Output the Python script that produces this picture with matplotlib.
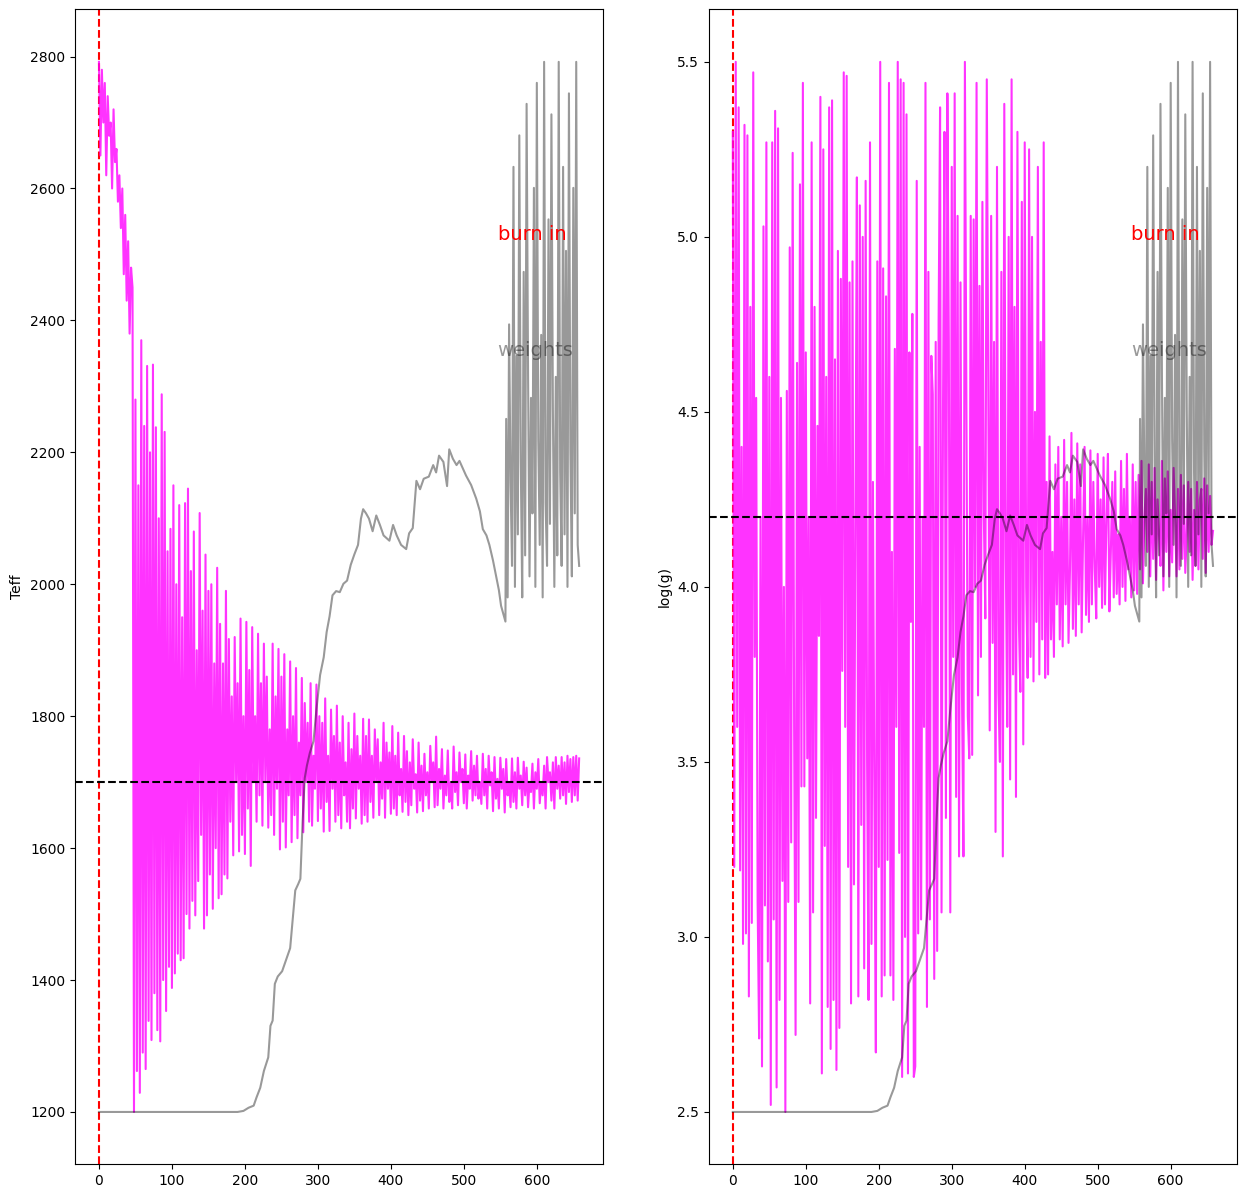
import numpy as np
import matplotlib
matplotlib.use("Agg")
import matplotlib.pyplot as plt

# chain samples, every 2nd iteration
step = 2

teff = [
    2792, 2650, 2780, 2700, 2760, 2620, 2740, 2680, 2700, 2600, 2720, 2640,
    2660, 2580, 2620, 2540, 2600, 2470, 2560, 2430, 2520, 2380, 2480, 2450,
    1200, 2280, 1262, 2150, 1229, 2370, 1290, 2240, 1265, 2331,
    1338, 2200, 1309, 2333, 1380, 2238, 1324, 2100, 1307, 2288,
    1400, 2231, 1353, 2050, 1420, 2084, 1388, 2150, 1410, 2000,
    1440, 2120, 1430, 1950, 1433, 2123, 1500, 2145, 1478, 2020,
    1520, 2080, 1498, 1900, 1550, 2108, 1620, 1960, 1478, 2045,
    1498, 1990, 1560, 2000, 1508, 1880, 1600, 2025, 1524, 1940,
    1530, 1880, 1560, 1990, 1554, 1917, 1640, 1830, 1589, 1920,
    1700, 1850, 1595, 1948, 1620, 1800, 1591, 1943, 1660, 1870,
    1573, 1935, 1700, 1800, 1640, 1925, 1680, 1850, 1634, 1910,
    1700, 1860, 1631, 1780, 1650, 1910, 1620, 1830, 1690, 1902,
    1598, 1860, 1640, 1894, 1601, 1780, 1680, 1883, 1609, 1800,
    1650, 1873, 1615, 1760, 1680, 1858, 1624, 1820, 1700, 1790,
    1640, 1850, 1634, 1740, 1690, 1848, 1641, 1800, 1660, 1790,
    1625, 1827, 1670, 1740, 1626, 1810, 1690, 1770, 1640, 1816,
    1650, 1760, 1630, 1800, 1680, 1730, 1640, 1790, 1630, 1750,
    1660, 1804, 1645, 1770, 1690, 1740, 1637, 1796, 1650, 1770,
    1640, 1795, 1670, 1740, 1646, 1780, 1700, 1765, 1650, 1730,
    1675, 1790, 1646, 1760, 1690, 1745, 1652, 1785, 1660, 1740,
    1650, 1775, 1680, 1720, 1655, 1770, 1670, 1747, 1650, 1730,
    1665, 1765, 1690, 1712, 1654, 1760, 1672, 1725, 1656, 1743,
    1680, 1715, 1660, 1755, 1700, 1730, 1662, 1769, 1665, 1720,
    1690, 1750, 1660, 1710, 1680, 1748, 1670, 1700, 1660, 1754,
    1685, 1715, 1665, 1745, 1700, 1720, 1668, 1742, 1660, 1710,
    1690, 1747, 1672, 1725, 1680, 1740, 1675, 1700, 1667, 1743,
    1680, 1720, 1660, 1740, 1695, 1715, 1656, 1738, 1675, 1705,
    1660, 1737, 1690, 1720, 1654, 1735, 1680, 1700, 1662, 1736,
    1670, 1715, 1660, 1737, 1690, 1710, 1665, 1731, 1680, 1722,
    1662, 1700, 1685, 1728, 1660, 1715, 1690, 1735, 1668, 1700,
    1680, 1725, 1660, 1738, 1700, 1715, 1672, 1730, 1660, 1738,
    1690, 1725, 1675, 1738, 1680, 1730, 1667, 1740, 1685, 1735,
    1670, 1738, 1680, 1740, 1672, 1736,
]

logg = [
    5.30, 3.20, 5.50, 3.60, 5.37, 3.19, 4.40, 2.98, 5.32, 3.01,
    5.29, 2.83, 4.80, 3.04, 5.47, 3.80, 4.54, 3.10, 2.71, 4.20,
    2.63, 5.03, 3.09, 5.27, 2.93, 4.60, 2.52, 5.27, 3.05, 5.36,
    2.57, 5.31, 2.82, 4.54, 3.16, 4.00, 2.50, 4.56, 3.10, 4.97,
    3.27, 5.24, 3.60, 2.72, 4.64, 3.10, 5.15, 3.43, 5.44, 3.43,
    4.67, 3.51, 4.20, 2.81, 5.27, 3.07, 4.80, 3.34, 4.46, 3.86,
    5.40, 2.61, 5.25, 3.26, 4.60, 2.80, 5.37, 2.68, 5.39, 2.82,
    4.65, 2.62, 4.96, 2.74, 4.88, 3.76, 5.47, 3.60, 5.46, 3.20,
    4.87, 2.81, 4.93, 3.15, 4.20, 5.17, 2.83, 5.09, 3.32, 5.00,
    2.91, 5.16, 3.50, 2.82, 5.27, 2.98, 4.30, 3.40, 2.67, 4.93,
    3.20, 5.50, 2.83, 4.91, 2.89, 4.83, 3.22, 5.44, 2.89, 4.10,
    2.82, 4.68, 3.60, 5.50, 3.24, 5.45, 2.60, 5.44, 3.00, 5.35,
    2.61, 4.67, 3.90, 4.78, 2.60, 2.63, 5.16, 3.01, 4.40, 3.05,
    4.20, 3.60, 5.44, 2.80, 4.90, 3.05, 4.66, 4.55, 2.88, 4.70,
    2.96, 4.76, 5.37, 3.07, 4.50, 5.30, 3.34, 5.41, 4.70, 3.07,
    5.20, 3.80, 5.41, 3.40, 5.06, 3.23, 4.87, 3.70, 3.23, 5.50,
    4.57, 3.63, 3.51, 5.06, 3.52, 5.05, 4.00, 5.44, 3.69, 4.86,
    3.80, 5.10, 4.20, 3.91, 5.45, 4.60, 3.59, 5.06, 3.84, 4.70,
    3.30, 5.20, 3.70, 3.50, 4.90, 3.23, 5.38, 4.10, 3.60, 5.00,
    3.45, 5.45, 3.75, 4.80, 3.40, 5.30, 3.90, 3.70, 5.10, 3.55,
    5.27, 4.00, 3.74, 5.25, 3.80, 5.00, 3.73, 4.50, 3.90, 5.20,
    3.75, 4.70, 3.85, 5.27, 3.74,
    4.30, 3.75, 4.43, 3.85, 4.10, 3.80, 4.35, 3.95, 4.40, 3.85,
    4.20, 3.83, 4.42, 3.95, 4.30, 3.84, 4.05, 4.44, 3.88, 4.25,
    3.86, 4.41, 3.95, 4.35, 3.87, 4.15, 4.40, 3.92, 4.20, 3.90,
    4.39, 3.95, 4.30, 4.05, 3.91, 4.38, 4.00, 4.25, 3.94, 4.37,
    3.95, 4.20, 4.38, 3.93, 4.10, 4.30, 3.97, 4.33, 3.98, 4.15,
    3.95, 4.36, 4.00, 4.28, 3.96, 4.38, 4.05, 4.20, 3.97, 4.35,
    3.99, 4.30, 3.98,
    4.32, 4.05, 4.36, 4.01, 4.20, 4.28, 4.10, 4.35, 4.03, 4.30,
    4.08, 4.34, 4.02, 4.25, 4.15, 4.06, 4.36, 3.99, 4.31, 4.10,
    4.33, 4.03, 4.22, 4.07, 4.34, 4.20, 4.03, 4.28, 4.05, 4.32,
    4.08, 4.29, 4.04, 4.15, 4.30, 4.10, 4.28, 4.02, 4.22, 4.06,
    4.30, 4.05, 4.25, 4.28, 4.08, 4.31, 4.04, 4.29, 4.10, 4.26,
    4.12, 4.16,
]

# relative weights (max = 1), smooth part
w_iter = [0, 190, 198, 205, 212, 216, 221, 226, 232, 235, 238, 241, 245, 251, 256,
          262, 266, 269, 273, 276, 279, 282, 285, 289, 294, 298, 303, 308, 312, 316,
          320, 325, 330, 335, 340, 345, 350, 355, 359, 362, 366, 370, 375, 380, 385,
          390, 398, 403, 408, 414, 421, 425, 430, 435, 440, 445, 452, 458, 462, 466,
          472, 477, 480, 485, 490, 494, 503, 510, 517, 522, 526, 531, 535, 540, 544,
          548, 551, 555, 557]
w_rel = [0.0, 0.0, 0.001, 0.004, 0.006, 0.014, 0.023, 0.039, 0.052, 0.082, 0.087, 0.122, 0.129, 0.134, 0.144,
         0.156, 0.188, 0.211, 0.217, 0.222, 0.276, 0.318, 0.330, 0.342, 0.353, 0.383, 0.416, 0.433, 0.457, 0.472,
         0.492, 0.496, 0.495, 0.503, 0.506, 0.521, 0.531, 0.540, 0.565, 0.574, 0.570, 0.565, 0.553, 0.568, 0.559,
         0.549, 0.544, 0.559, 0.549, 0.540, 0.536, 0.551, 0.556, 0.601, 0.593, 0.603, 0.605, 0.616, 0.609, 0.625,
         0.619, 0.596, 0.631, 0.622, 0.616, 0.620, 0.606, 0.597, 0.584, 0.572, 0.555, 0.549, 0.540, 0.525, 0.511,
         0.497, 0.482, 0.472, 0.467]
# noisy tail, iterations 558..658
w_tail = [0.66, 0.49, 0.75, 0.60, 0.52, 0.90, 0.50, 0.72, 0.55, 0.93,
          0.62, 0.49, 0.80, 0.53, 0.96, 0.70, 0.51, 0.68, 0.57, 0.88,
          0.50, 0.98, 0.64, 0.54, 0.74, 0.49, 1.00, 0.58, 0.52, 0.85,
          0.56, 0.95, 0.67, 0.50, 0.70, 0.53, 1.00, 0.61, 0.52, 0.90,
          0.55, 0.82, 0.50, 0.97, 0.63, 0.51, 0.88, 0.57, 1.00, 0.54,
          0.52]

params = [("Teff", teff, 1700), ("log(g)", logg, 4.2)]

w_x = np.concatenate([w_iter, 558 + np.arange(len(w_tail)) * 2])
w_y = np.concatenate([w_rel, w_tail])

fig, axes = plt.subplots(1, 2, figsize=(12.47, 11.98), dpi=100)
fig.subplots_adjust(left=0.0601, right=0.992, bottom=0.028, top=0.9922, wspace=0.2)

for ax, (name, chain, truth) in zip(axes, params):
    chain = np.array(chain)
    it = np.arange(len(chain)) * step
    ax.axvline(0, color='r', ls='--')
    ax.plot(it, chain, color='magenta', alpha=0.8)
    lo, hi = chain.min(), chain.max()
    ax.plot(w_x, lo + w_y * (hi - lo), color='k', alpha=0.4)
    ax.axhline(truth, color='k', ls='--')
    ax.text(0.8, 0.8, 'burn in', color='r', fontsize=14, transform=ax.transAxes)
    ax.text(0.8, 0.7, 'weights', color='k', alpha=0.4, fontsize=14, transform=ax.transAxes)
    ax.set_ylabel(name)

fig.savefig('out.png')
